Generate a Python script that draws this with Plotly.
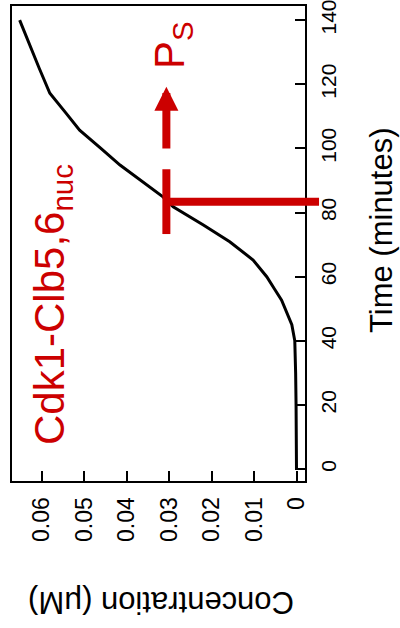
import plotly.graph_objects as go

# ---- data ----
time_min = [0, 10, 20, 30, 40, 45, 48, 52.7, 56, 60, 65.2, 70.9, 76.1, 81.8, 84.9,
            90, 94.8, 100, 105.7, 111, 117.2, 125, 132, 140]
conc_uM = [0.0001, 0.0001, 0.0002, 0.0003, 0.0005, 0.0012, 0.0022, 0.0036, 0.0052,
           0.0071, 0.0103, 0.0158, 0.0220, 0.0291, 0.0315, 0.0367, 0.0416, 0.0461,
           0.0511, 0.0543, 0.0581, 0.0606, 0.0627, 0.0652]
conc_ticks = [0, 0.01, 0.02, 0.03, 0.04, 0.05, 0.06]
conc_ticktext = ["0", "0.01", "0.02", "0.03", "0.04", "0.05", "0.06"]
time_ticks = [0, 20, 40, 60, 80, 100, 120, 140]
time_ticktext = ["0", "20", "40", "60", "80", "100", "120", "140"]

# P_S marker values
ps_time = 83.4
ps_conc = 0.0307
ps_conc_start = 0.0311
ps_conc_end = -0.0052
bar_time_lo = 73.3
bar_time_hi = 93.5
arrow_time_tail = 99.5
arrow_time_head = 119.2

# ---- layout geometry ----
W, H = 400, 628
ML, MR, MT, MB = 12, 95, 6, 147
PW = W - ML - MR
PH = H - MT - MB
XR = [0.067, -0.0019]
YR = [-3.7, 144.4]

RED = "#cc0000"
SANS = "Liberation Sans, Arial, sans-serif"


def px2paper_x(px):
    return (px - ML) / PW


def px2paper_y(py):
    return (H - MB - py) / PH


def conc2paper(c):
    return (XR[0] - c) / (XR[0] - XR[1])


fig = go.Figure()
fig.add_trace(go.Scatter(x=conc_uM, y=time_min, mode="lines",
                         line=dict(color="black", width=3), showlegend=False,
                         hoverinfo="skip"))

axis_common = dict(showline=True, linecolor="black", linewidth=2, mirror=True,
                   ticks="inside", ticklen=10, tickwidth=2, tickcolor="black",
                   showgrid=False, zeroline=False, tickangle=-90, automargin=False,
                   ticklabeloverflow="allow")

fig.update_xaxes(range=XR, tickvals=conc_ticks, ticktext=conc_ticktext,
                 side="bottom", ticklabelstandoff=5,
                 tickfont=dict(family=SANS, size=23, color="black"), **axis_common)
fig.update_yaxes(range=YR, tickvals=time_ticks, ticktext=time_ticktext,
                 side="right", ticklabelstandoff=4,
                 tickfont=dict(family=SANS, size=21, color="black"), **axis_common)

shapes = [
    dict(type="line", xref="paper", yref="y",
         x0=conc2paper(ps_conc_start), x1=conc2paper(ps_conc_end),
         y0=ps_time, y1=ps_time, line=dict(color=RED, width=8)),
    dict(type="line", xref="x", yref="y", x0=ps_conc, x1=ps_conc,
         y0=bar_time_lo, y1=bar_time_hi, line=dict(color=RED, width=8)),
]

annotations = [
    dict(x=ps_conc, y=arrow_time_head, ax=ps_conc, ay=arrow_time_tail,
         xref="x", yref="y", axref="x", ayref="y", text="", showarrow=True,
         arrowhead=2, arrowwidth=8, arrowsize=0.6, arrowcolor=RED),
    dict(text="P<sub>S</sub>", xref="paper", yref="paper",
         x=px2paper_x(172), y=px2paper_y(45), showarrow=False, textangle=-90,
         font=dict(family=SANS, size=42, color=RED),
         xanchor="center", yanchor="middle"),
    dict(text="Cdk1-Clb5,6<sub>nuc</sub>", xref="paper", yref="paper",
         x=px2paper_x(52), y=px2paper_y(305), showarrow=False, textangle=-90,
         font=dict(family=SANS, size=42, color=RED),
         xanchor="center", yanchor="middle"),
    dict(text="Time (minutes)", xref="paper", yref="paper",
         x=px2paper_x(381.5), y=px2paper_y(230.5), showarrow=False,
         textangle=-90, font=dict(family=SANS, size=31, color="black"),
         xanchor="center", yanchor="middle"),
    dict(text="Concentration (μM)", xref="paper", yref="paper",
         x=px2paper_x(161), y=px2paper_y(603), showarrow=False,
         textangle=180, font=dict(family=SANS, size=31, color="black"),
         xanchor="center", yanchor="middle"),
]

fig.update_layout(width=W, height=H, margin=dict(l=ML, r=MR, t=MT, b=MB),
                  plot_bgcolor="white", paper_bgcolor="white",
                  shapes=shapes, annotations=annotations, showlegend=False)

fig.write_html("out.html", config={"displayModeBar": False},
               post_script="document.body.style.margin='0';")
